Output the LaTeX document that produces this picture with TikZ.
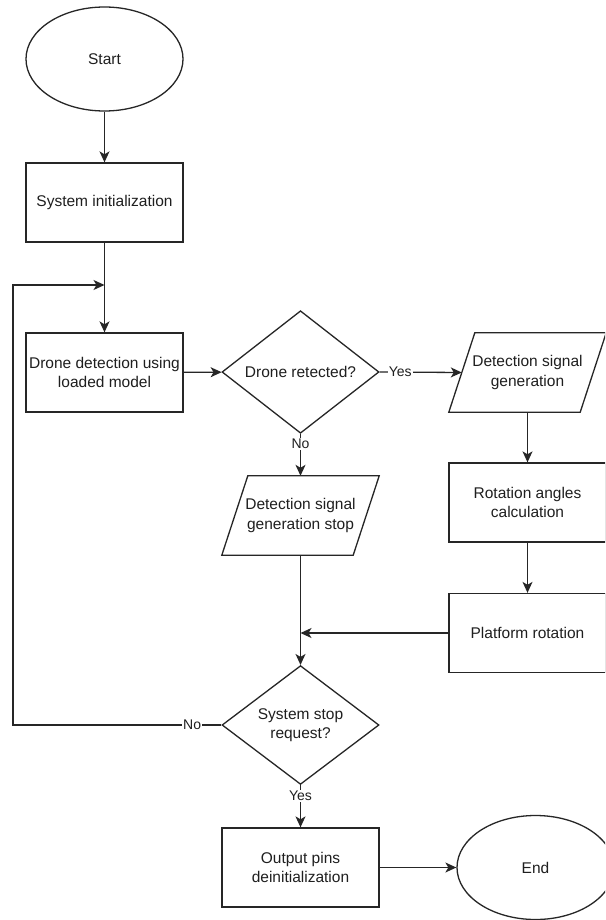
\documentclass[tikz,border=0pt]{standalone}
\usepackage{fontspec}
\setmainfont{Liberation Sans}
\usetikzlibrary{shapes.geometric,arrows.meta}
\begin{document}
\begin{tikzpicture}[x=1pt,y=-1pt,
  every node/.style={font=\fontsize{15.5}{19.5}\selectfont, text=black!88},
  line/.style={line width=1.3pt, draw=black!85},
  flow/.style={line, -{Stealth[length=11pt,width=10pt,inset=3pt]}},
  process/.style={draw=black!85, line width=1.3pt, rectangle, minimum width=157pt,
    minimum height=79pt, align=center, inner sep=2pt},
  terminal/.style={draw=black!85, line width=1.3pt, ellipse, minimum width=157pt,
    minimum height=104pt, inner sep=0pt},
  decision/.style={draw=black!85, line width=1.3pt, diamond, minimum width=157pt,
    minimum height=105pt, inner sep=0pt, align=center},
  iobox/.style={rectangle, minimum width=157pt, minimum height=79pt, align=center, inner sep=2pt},
  lbl/.style={fill=white, inner sep=1pt, font=\fontsize{14}{16}\selectfont}
]
% page frame
\useasboundingbox (0,0) rectangle (605,920);
\fill[white] (0,0) rectangle (605,920);
\clip (0,0) rectangle (605,920);

% flow elements
\node[terminal] (start) at (104.5,59) {Start};
\node[process] (init) at (104.5,202.5) {System initialization};
\node[process] (detect) at (104.5,372.5) {Drone detection using\\loaded model};
\node[decision] (dec1) at (300.5,372) {Drone retected?};
\node[iobox] (sig) at (527.5,372.5) {Detection signal\\generation};
\node[process] (rot) at (527.5,502.5) {Rotation angles\\calculation};
\node[process] (plat) at (527.5,633) {Platform rotation};
\node[iobox] (stopsig) at (300.5,515.5) {Detection signal\\generation stop};
\node[decision] (dec2) at (300.5,725) {System stop\\request?};
\node[process] (out) at (300.5,867.5) {Output pins\\deinitialization};
\node[terminal] (end) at (535.5,867.5) {End};

% parallelogram outlines of the signal blocks
\foreach \n in {sig,stopsig}
  \draw[line, line join=miter] ([xshift=26pt]\n.north west) -- (\n.north east)
    -- ([xshift=-26pt]\n.south east) -- (\n.south west) -- cycle;

% routing points
\coordinate (join) at (104.5,285);
\coordinate (loopT) at (13,285);
\coordinate (loopB) at (13,725);
\coordinate (merge) at (300.5,633);

% connectors
\draw[flow] (start) -- (init);
\draw[flow] (init) -- (detect);
\draw[flow] (detect) -- (dec1);
\draw[flow] (dec1.east) -- node[lbl,pos=0.25] {Yes} ([xshift=13pt]sig.west);
\draw[flow] (sig) -- (rot);
\draw[flow] (rot) -- (plat);
\draw[flow] (dec1.south) -- node[lbl,pos=0.24] {No} (stopsig.north);
\draw[flow] (plat.west) -- (merge);
\draw[flow] (stopsig.south) -- (dec2.north);
\draw[flow] (dec2.west) -- node[lbl,pos=0.14] {No} (loopB) -- (loopT) -- (join);
\draw[flow] (dec2.south) -- node[lbl,pos=0.25] {Yes} (out.north);
\draw[flow] (out) -- (end);
\end{tikzpicture}
\end{document}
